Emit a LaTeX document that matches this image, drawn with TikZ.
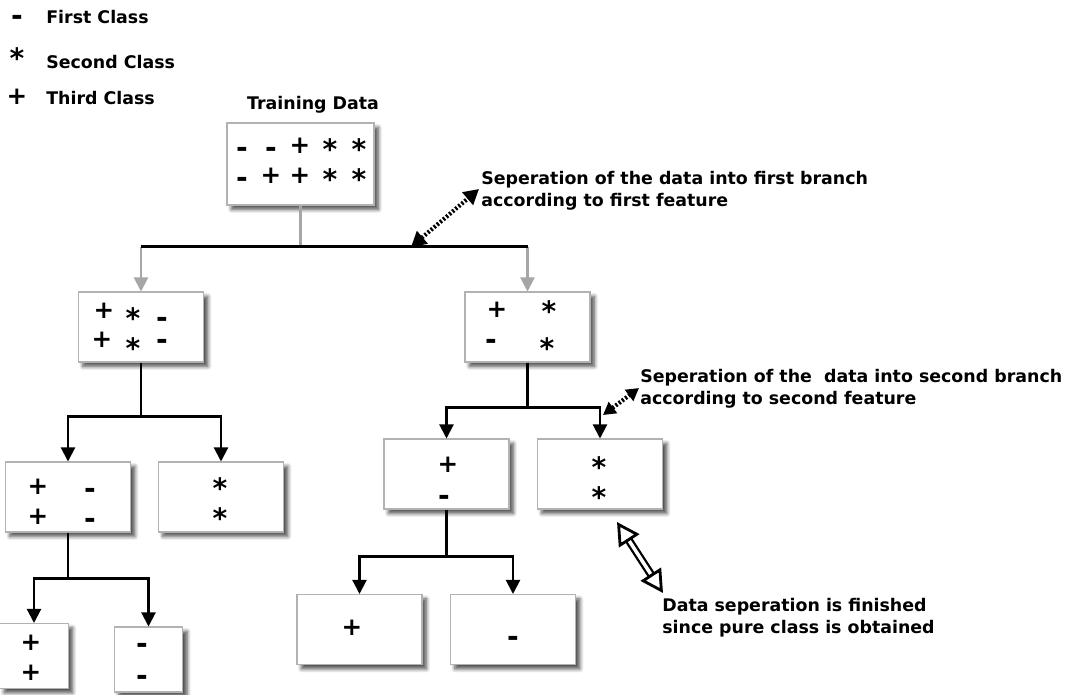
\documentclass[tikz,border=0pt]{standalone}
\usepackage{fontspec}
\setmainfont{DejaVu Sans}
\usetikzlibrary{arrows.meta, calc, shadows.blur}

\begin{document}
\begin{tikzpicture}[
    x=0.02cm, y=-0.02cm,
    box/.style={draw=gray!60, line width=0.6pt, fill=white,
        minimum width=2.5cm, minimum height=1.4cm, inner sep=0pt,
        blur shadow={shadow xshift=2.5pt, shadow yshift=-2.5pt,
            shadow blur steps=6, shadow opacity=70}},
    leaf/.style={box, minimum width=1.37cm, minimum height=1.3cm},
    sym/.style={font=\bfseries\fontsize{14}{14}\selectfont, inner sep=0pt},
    markplus/.style={sym, node contents={+}},
    markminus/.style={sym, font=\bfseries\fontsize{16}{16}\selectfont, yshift=-3.6pt, node contents={-}},
    markstar/.style={sym, font=\bfseries\fontsize{16}{16}\selectfont, yshift=-3pt, node contents={*}},
    note/.style={font=\bfseries\fontsize{9.9}{12.5}\selectfont, align=left,
        anchor=west, inner sep=0pt},
    branch/.style={line width=1.2pt, line join=miter},
    split/.style={branch, -{Triangle[length=0.28cm, width=0.28cm]}},
    feed/.style={line width=1.2pt, gray!70},
    hint/.style={line width=2.4pt, dash pattern=on 1.2pt off 1.1pt,
        {Triangle[length=0.3cm, width=0.32cm]}-{Triangle[length=0.3cm, width=0.32cm]}},
    opentip/.style={line width=1.6pt, -{Triangle[open, length=0.45cm, width=0.48cm]}}
]
\useasboundingbox (0,0) rectangle (1065,694);

% ============ LEGEND ============
\node (key1) at (17,14) [markminus];
\node (key2) at (17,53) [markstar];
\node (key3) at (17,97) [markplus];
\node[note] (key1t) at (46,17) {First Class};
\node[note] (key2t) at (46,62) {Second Class};
\node[note] (key3t) at (46,98) {Third Class};

% ============ TREE BOXES ============
\node[box, minimum width=2.94cm, minimum height=1.64cm] (root) at (300.5,164) {};
\node[note, anchor=center] (title) at (313,105) {Training Data};

\node[box] (n1) at (141,327) {};
\node[box] (n2) at (527.5,327) {};
\node[box] (n11) at (68,497) {};
\node[box] (n12) at (221,497) {};
\node[box] (n21) at (446.5,474) {};
\node[box] (n22) at (600,474) {};
\node[leaf] (n111) at (34,656) {};
\node[leaf] (n112) at (148.5,659.5) {};
\node[box] (n211) at (359.5,629.5) {};
\node[box] (n212) at (513,629.5) {};

% class marks inside the boxes
\foreach \k/\x/\y [count=\i] in {minus/242/146, minus/271/146, plus/300/146, star/330/144, star/359/144,
                                 minus/242/176, plus/271/176, plus/300/176, star/330/174, star/359/174}
    \node (root-\i) at (\x,\y) [mark\k];
\foreach \k/\x/\y [count=\i] in {plus/104/311, star/133/313, minus/162/316,
                                 plus/102/340, star/133/343, minus/162/338}
    \node (n1-\i) at (\x,\y) [mark\k];
\foreach \k/\x/\y [count=\i] in {plus/497/310, star/549/306, minus/491/338, star/547/343}
    \node (n2-\i) at (\x,\y) [mark\k];
\foreach \k/\x/\y [count=\i] in {plus/38/487, minus/90/487, plus/38/517, minus/90/517}
    \node (n11-\i) at (\x,\y) [mark\k];
\foreach \k/\x/\y [count=\i] in {star/220/483, star/220/513}
    \node (n12-\i) at (\x,\y) [mark\k];
\foreach \k/\x/\y [count=\i] in {plus/448/465, minus/444/494}
    \node (n21-\i) at (\x,\y) [mark\k];
\foreach \k/\x/\y [count=\i] in {star/599/462, star/599/492}
    \node (n22-\i) at (\x,\y) [mark\k];
\foreach \k/\x/\y [count=\i] in {plus/31/643, plus/31/673}
    \node (n111-\i) at (\x,\y) [mark\k];
\foreach \k/\x/\y [count=\i] in {minus/142/642, minus/142/674}
    \node (n112-\i) at (\x,\y) [mark\k];
\node (n211-1) at (352,628) [markplus];
\node (n212-1) at (513,635) [markminus];

% ============ CONNECTORS ============
% first split (gray feed lines)
\draw[feed] (root.south) -- ++(0,41) coordinate (f0);
\draw[feed, -{Triangle[length=0.28cm, width=0.28cm]}] (n1.north |- f0) -- (n1.north);
\draw[feed, -{Triangle[length=0.28cm, width=0.28cm]}] (n2.north |- f0) -- (n2.north);
\draw[branch] (n1.north |- f0) -- (n2.north |- f0);

% lower splits
\draw[branch] (n1.south) -- ++(0,54) coordinate (f1);
\draw[split] (f1) -| (n11.north);
\draw[split] (f1) -| (n12.north);

\draw[branch] (n2.south) -- ++(0,45) coordinate (f2);
\draw[split] (f2) -| (n21.north);
\draw[split] (f2) -| (n22.north);

\draw[branch] (n11.south) -- ++(0,46) coordinate (f11);
\draw[split] (f11) -| (n111.north);
\draw[split] (f11) -| (n112.north);

\draw[branch] (n21.south) -- ++(0,47) coordinate (f21);
\draw[split] (f21) -| (n211.north);
\draw[split] (f21) -| (n212.north);

% ============ NOTES ============
\coordinate (h1a) at (411,247);
\coordinate (h1b) at (479,189);
\draw[hint] (h1a) -- (h1b);
\node[note] (note1) at (481,191) {Seperation of the data into first branch\\according to first feature};

\coordinate (h2a) at (603,415);
\coordinate (h2b) at (639,388);
\draw[hint, {Triangle[length=0.25cm, width=0.27cm]}-{Triangle[length=0.25cm, width=0.27cm]}] (h2a) -- (h2b);
\node[note] (note2) at (640,389) {Seperation of the \ data into second branch\\according to second feature};

% pure class reached
\coordinate (h3a) at (617,522);
\coordinate (h3b) at (663,593);
\draw[line width=1.3pt, double=white, double distance=2pt,
    shorten <=0.42cm, shorten >=0.42cm] (h3a) -- (h3b);
\draw[opentip] ($(h3a)!0.45cm!(h3b)$) -- (h3a);
\draw[opentip] ($(h3b)!0.45cm!(h3a)$) -- (h3b);
\node[note] (note3) at (662,618) {Data seperation is finished\\since pure class is obtained};

\end{tikzpicture}
\end{document}
